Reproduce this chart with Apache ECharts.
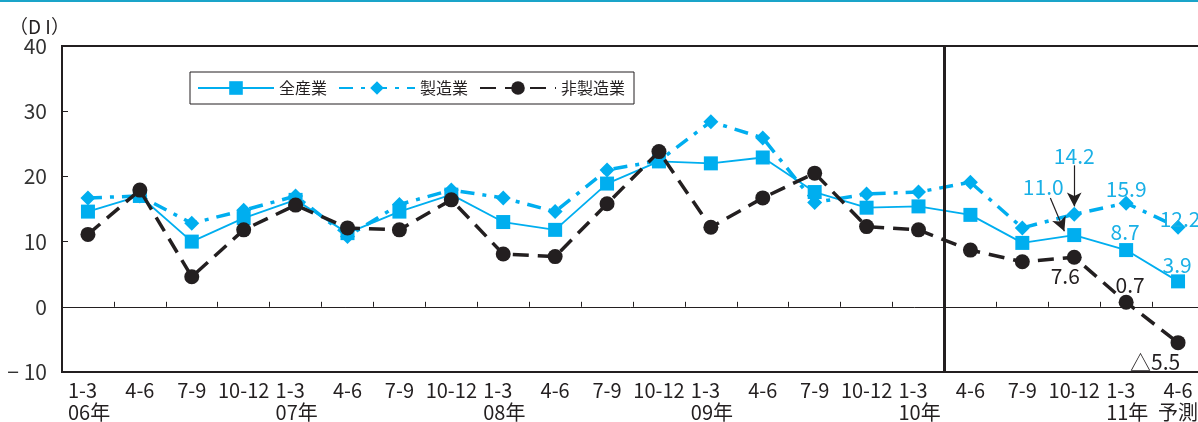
<!DOCTYPE html>
<html>
<head>
<meta charset="utf-8">
<script src="https://cdn.jsdelivr.net/npm/echarts@6/dist/echarts.min.js"></script>
<style>
  html, body { margin: 0; padding: 0; background: #fff; }
  #chart { width: 1198px; height: 422px; }
</style>
</head>
<body>
<div id="chart"></div>
<script>
// Quarter labels and year markers along the bottom axis
const quarters = ['1-3','4-6','7-9','10-12','1-3','4-6','7-9','10-12','1-3','4-6','7-9','10-12',
                  '1-3','4-6','7-9','10-12','1-3','4-6','7-9','10-12','1-3','4-6'];
const years = ['06年','','','','07年','','','','08年','','','','09年','','','','10年','','','','11年','予測'];

// DI values per quarter
const allIndustry   = [14.6, 17.0, 10.0, 13.6, 16.4, 11.3, 14.6, 17.2, 13.0, 11.8, 18.9, 22.3,
                       22.0, 22.9, 17.6, 15.2, 15.4, 14.1, 9.8, 11.0, 8.7, 3.9];
const manufacturing = [16.7, 17.0, 12.8, 14.8, 17.0, 10.8, 15.7, 17.9, 16.7, 14.6, 21.0, 22.4,
                       28.4, 25.9, 16.0, 17.3, 17.6, 19.1, 12.1, 14.2, 15.9, 12.2];
const nonManufacturing = [11.1, 17.9, 4.6, 11.8, 15.6, 12.1, 11.8, 16.4, 8.1, 7.7, 15.8, 23.8,
                          12.2, 16.7, 20.5, 12.3, 11.8, 8.7, 6.9, 7.6, 0.7, -5.5];

const yTicks = [-10, 0, 10, 20, 30, 40];

const CYAN = '#00aeef';
const CYAN_TEXT = '#1ab0e6';
const INK = '#231f20';
const FONT = "'Liberation Sans Narrow', 'Arial Narrow', 'Noto Sans CJK JP', sans-serif";
const CJK = "'Noto Sans CJK JP', sans-serif";

// Which points carry a value label, and where the label sits relative to the point
const labelPlacement = {
  all: { 19: [-31, -48], 20: [-1, -18], 21: [-1, -16] },
  mfg: { 19: [0, -58], 20: [0, -14], 21: [2, -8] },
  non: { 19: [-9, 19], 20: [4, -17], 21: [-23, 19] }
};

function fmtValue(v) {
  return v < 0 ? '△' + Math.abs(v).toFixed(1) : v.toFixed(1);
}

function buildData(values, placement, color) {
  return values.map((v, i) => {
    const off = placement[i];
    if (!off) return v;
    return {
      value: v,
      label: {
        show: true, position: 'inside', offset: off,
        formatter: (p) => fmtValue(p.value),
        color: color, fontSize: 21, fontFamily: FONT
      }
    };
  });
}

const chart = echarts.init(document.getElementById('chart'), null, { renderer: 'canvas' });

const option = {
  animation: false,
  backgroundColor: '#fff',
  title: {
    text: '（D I）', left: 4, top: 12,
    textStyle: { fontSize: 19, fontWeight: 'normal', color: INK, fontFamily: CJK }
  },
  graphic: [{
    type: 'rect', left: 0, top: 0, shape: { width: 1198, height: 2 },
    style: { fill: '#1aa4c9' }, silent: true
  }],
  legend: {
    left: 190, top: 72,
    itemWidth: 76, itemHeight: 17, itemGap: 11,
    padding: [8, 9, 8, 7],
    borderColor: INK, borderWidth: 1, borderRadius: 0,
    textStyle: { fontSize: 16, color: INK, fontFamily: CJK },
    data: ['全産業', '製造業', '非製造業']
  },
  grid: {
    left: 62, top: 46, right: -6, bottom: 50,
    show: true, borderColor: INK, borderWidth: 2, backgroundColor: 'transparent',
    outerBoundsMode: 'none'
  },
  xAxis: [
    {
      // labelled axis along the bottom edge of the frame
      type: 'category', data: quarters, position: 'bottom', boundaryGap: true,
      axisLine: { onZero: false, lineStyle: { color: INK, width: 2 } },
      axisTick: { show: false },
      axisLabel: {
        interval: 0, margin: 7, color: INK, fontSize: 20, fontFamily: FONT, lineHeight: 22,
        formatter: (val, idx) => {
          const yr = years[idx];
          if (!yr) return '{c|' + val + '}';
          if (yr === '予測') return '{c|' + val + '}\n{c|' + yr + '}';
          return '{q|' + val + '}\n{q|' + yr + '}';
        },
        rich: {
          c: { fontSize: 20, fontFamily: FONT, color: INK, lineHeight: 22, align: 'center' },
          q: { fontSize: 20, fontFamily: FONT, color: INK, lineHeight: 22, width: 40, align: 'left' }
        }
      },
      splitLine: { show: false }
    },
    {
      // zero line with quarter boundary ticks
      type: 'category', data: quarters, position: 'top', boundaryGap: true,
      axisLine: { onZero: true, lineStyle: { color: INK, width: 1 } },
      axisTick: { show: true, inside: false, length: 5, interval: 0, lineStyle: { color: INK, width: 1 } },
      axisLabel: { show: false },
      splitLine: { show: false }
    },
    {
      // continuous helper axis in band units for the divider and annotation arrows
      type: 'value', min: 0, max: quarters.length, show: false,
      axisLine: { onZero: false }
    }
  ],
  yAxis: {
    type: 'value', min: yTicks[0], max: yTicks[yTicks.length - 1], interval: 10,
    axisLine: { show: true, onZero: false, lineStyle: { color: INK, width: 2 } },
    axisTick: { show: true, inside: true, length: 6, lineStyle: { color: INK, width: 1 } },
    splitLine: { show: false },
    axisLabel: {
      margin: 15, color: '#333', fontSize: 21, fontFamily: FONT,
      formatter: (v) => v < 0 ? '− ' + Math.abs(v) : String(v)
    }
  },
  series: [
    {
      name: '全産業', type: 'line', xAxisIndex: 0,
      data: buildData(allIndustry, labelPlacement.all, CYAN_TEXT),
      symbol: 'rect', symbolSize: 14,
      lineStyle: { color: CYAN, width: 1.8, type: 'solid' },
      itemStyle: { color: CYAN },
      z: 3
    },
    {
      name: '製造業', type: 'line', xAxisIndex: 0,
      data: buildData(manufacturing, labelPlacement.mfg, CYAN_TEXT),
      symbol: 'diamond', symbolSize: 15,
      lineStyle: { color: CYAN, width: 3.5, type: [14, 8, 4, 8] },
      itemStyle: { color: CYAN },
      z: 2
    },
    {
      name: '非製造業', type: 'line', xAxisIndex: 0,
      data: buildData(nonManufacturing, labelPlacement.non, INK),
      symbol: 'circle', symbolSize: 15,
      lineStyle: { color: INK, width: 3.5, type: [16, 9] },
      itemStyle: { color: INK },
      z: 4
    },
    {
      // divider before the latest quarters and the two pointer arrows
      type: 'line', xAxisIndex: 2, data: [], silent: true, z: 5,
      markLine: {
        silent: true, animation: false,
        symbol: ['none', 'none'],
        label: { show: false },
        data: [
          { xAxis: 17, lineStyle: { color: INK, width: 3, type: 'solid' } },
          [
            { coord: [19.5, 21.7], symbol: 'none', lineStyle: { color: INK, width: 1.2, type: 'solid' } },
            { coord: [19.5, 15.4], symbol: 'arrow', symbolSize: [11, 14] }
          ],
          [
            { coord: [19.04, 16.7], symbol: 'none', lineStyle: { color: INK, width: 1.2, type: 'solid' } },
            { coord: [19.31, 11.6], symbol: 'arrow', symbolSize: [11, 14] }
          ]
        ]
      }
    }
  ]
};

chart.setOption(option);
</script>
</body>
</html>
